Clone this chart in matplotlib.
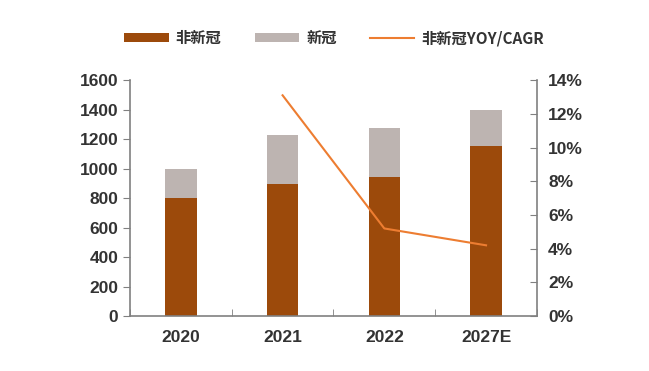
import numpy as np
import matplotlib
matplotlib.use("Agg")
import matplotlib.pyplot as plt
from matplotlib.ticker import FuncFormatter

plt.rcParams['font.family'] = ['Liberation Sans', 'Noto Sans CJK SC', 'DejaVu Sans']

years = ['2020', '2021', '2022', '2027E']
non_covid = [800, 895, 940, 1155]
covid = [200, 335, 335, 240]
yoy_years = ['2021', '2022', '2027E']
yoy = [0.131, 0.052, 0.042]

brown = '#9C4A0B'
grey = '#BDB4B1'
orange = '#ED7D31'
axis_col = '#808080'
text_col = '#333333'

fig = plt.figure(figsize=(6.49, 3.71), dpi=100)
ax = fig.add_axes([0.2003, 0.148, 0.627, 0.636])
ax2 = ax.twinx()

x = np.arange(len(years))
ax.bar(x, non_covid, width=0.31, color=brown, label='非新冠')
ax.bar(x, covid, width=0.31, bottom=non_covid, color=grey, label='新冠')
xi = [years.index(y) for y in yoy_years]
ax2.plot(xi, yoy, color=orange, lw=1.5, label='非新冠YOY/CAGR')

ax.set_xlim(-0.5, len(years) - 0.5)
ax.set_ylim(0, 1600)
ax.set_yticks(range(0, 1601, 200))
ax2.set_ylim(0, 0.14)
ax2.set_yticks(np.arange(0, 0.141, 0.02))
ax2.yaxis.set_major_formatter(FuncFormatter(lambda v, p: f'{v*100:.0f}%'))

ax.set_xticks(x)
ax.set_xticklabels(years)
ax.set_xticks(np.arange(-0.5, len(years)), minor=True)
ax.tick_params(axis='x', which='major', length=0, pad=10)
ax.tick_params(axis='x', which='minor', direction='in', length=5, color=axis_col)
ax.tick_params(axis='y', direction='out', length=5, color=axis_col)
ax2.tick_params(axis='y', direction='in', length=5, color=axis_col, pad=8)

for a in (ax, ax2):
    a.spines['top'].set_visible(False)
    for s in ('left', 'right', 'bottom'):
        a.spines[s].set_color(axis_col)
        a.spines[s].set_linewidth(1.2)
    for lab in a.get_xticklabels() + a.get_yticklabels():
        lab.set_fontsize(12.5)
        lab.set_fontweight('bold')
        lab.set_color(text_col)
ax.spines['right'].set_visible(False)
ax2.spines['left'].set_visible(False)
ax2.spines['bottom'].set_visible(False)

h1, l1 = ax.get_legend_handles_labels()
h2, l2 = ax2.get_legend_handles_labels()
fig.legend(h1 + h2, l1 + l2, loc='center', bbox_to_anchor=(0.515, 0.897), ncol=3,
           frameon=False, handlelength=2.9, handleheight=0.55, handletextpad=0.45,
           columnspacing=2.2,
           prop={'family': ['Noto Sans CJK SC', 'DejaVu Sans'], 'weight': 'bold', 'size': 11},
           labelcolor=text_col)

fig.savefig('out.png', dpi=100)
